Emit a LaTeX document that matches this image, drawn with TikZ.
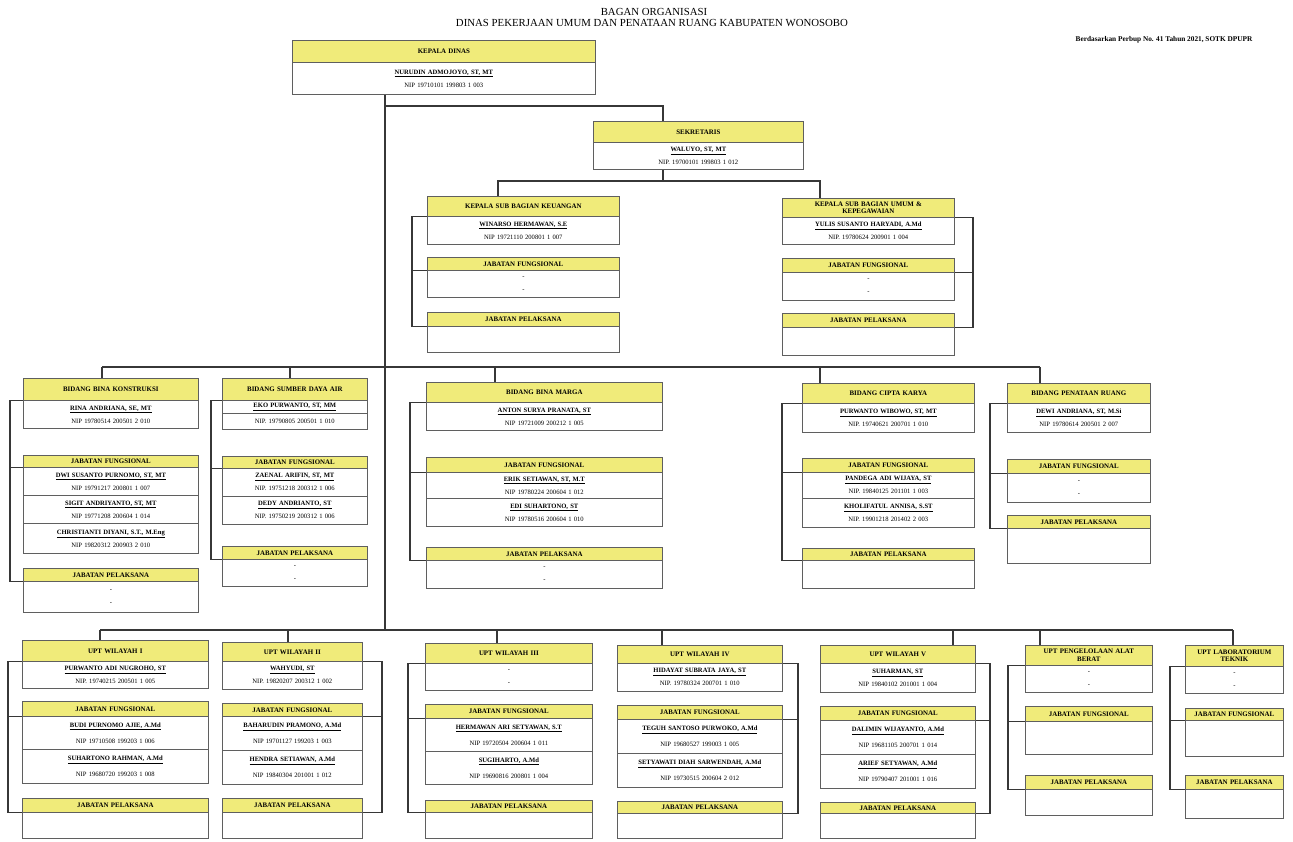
\documentclass[tikz,border=0pt]{standalone}
\usepackage{fontspec}
\setmainfont{Liberation Serif}
\usetikzlibrary{backgrounds}
\definecolor{ylw}{RGB}{240,235,122}
\definecolor{boxc}{RGB}{95,95,95}
\definecolor{linec}{RGB}{55,55,55}
\newcommand{\nm}[1]{\underline{\textbf{#1}}}
\tikzset{
  hd/.style={draw=boxc, line width=0.7pt, fill=ylw, inner sep=0pt, align=center,
    font=\fontsize{6.9}{7.6}\selectfont\bfseries},
  bd/.style={draw=boxc, line width=0.7pt, fill=white, inner sep=0pt, align=center,
    font=\fontsize{6.6}{13}\selectfont},
  bdu/.style={bd, font=\fontsize{6.6}{16}\selectfont},
  conn/.style={draw=linec, line width=1.3pt},
  ttl/.style={font=\fontsize{10.8}{12}\selectfont, inner sep=0pt},
}
\newcommand{\HB}[6]{\node[hd, anchor=north west, text width=#4pt, minimum height=#5pt] (#1) at (#2,#3) {#6};}
\newcommand{\BB}[6]{\node[bd, anchor=north west, text width=#4pt, minimum height=#5pt] (#1) at (#2,#3) {#6};}
\newcommand{\BU}[6]{\node[bdu, anchor=north west, text width=#4pt, minimum height=#5pt] (#1) at (#2,#3) {#6};}
\newcommand{\LBr}[4]{\coordinate (#1x) at (#4,0);
  \draw[conn] (#1.south west) -- (#1.south west -| #1x) -- (#3.south west -| #1x) -- (#3.south west);
  \draw[conn] (#2.south west -| #1x) -- (#2.south west);}
\newcommand{\RBr}[4]{\coordinate (#1x) at (#4,0);
  \draw[conn] (#1.south east) -- (#1.south east -| #1x) -- (#3.south east -| #1x) -- (#3.south east);
  \draw[conn] (#2.south east -| #1x) -- (#2.south east);}
\begin{document}
\begin{tikzpicture}[x=1pt,y=-1pt]
\useasboundingbox (0,0) rectangle (1293,841);

% titles
\node[ttl] (t1) at (654,12) {BAGAN ORGANISASI};
\node[ttl] (t2) at (652,23) {DINAS PEKERJAAN UMUM DAN PENATAAN RUANG KABUPATEN WONOSOBO};
\node[font=\fontsize{7.3}{8}\selectfont\bfseries, inner sep=0pt] (note) at (1164,40) {Berdasarkan Perbup No. 41 Tahun 2021, SOTK DPUPR};

% Kepala Dinas
\HB{kdh}{292}{40}{303}{22}{KEPALA DINAS}
\BB{kdb}{292}{62}{303}{32}{\nm{NURUDIN ADMOJOYO, ST, MT}\\NIP 19710101 199803 1 003}

% Sekretaris
\HB{skh}{593}{121}{210}{21}{SEKRETARIS}
\BB{skb}{593}{142}{210}{27}{\nm{WALUYO, ST, MT}\\NIP. 19700101 199803 1 012}

% Kasubag Keuangan
\HB{kkh}{427}{196}{192}{20}{KEPALA SUB BAGIAN KEUANGAN}
\BB{kkb}{427}{216}{192}{28}{\nm{WINARSO HERMAWAN, S.E}\\NIP 19721110 200801 1 007}
\HB{kkfh}{427}{257}{192}{13}{JABATAN FUNGSIONAL}
\BB{kkfb}{427}{270}{192}{27}{-\\-}
\HB{kkph}{427}{312}{192}{14}{JABATAN PELAKSANA}
\BB{kkpb}{427}{326}{192}{26}{}

% Kasubag Umum
\HB{kuh}{782}{198}{172}{19}{KEPALA SUB BAGIAN UMUM \&\\KEPEGAWAIAN}
\BB{kub}{782}{217}{172}{27}{\nm{YULIS SUSANTO HARYADI, A.Md}\\NIP. 19780624 200901 1 004}
\HB{kufh}{782}{258}{172}{14}{JABATAN FUNGSIONAL}
\BB{kufb}{782}{272}{172}{28}{-\\-}
\HB{kuph}{782}{313}{172}{14}{JABATAN PELAKSANA}
\BB{kupb}{782}{327}{172}{28}{}

% Bidang 1
\HB{bah}{23}{378}{175}{22}{BIDANG BINA KONSTRUKSI}
\BB{bab}{23}{400}{175}{28}{\nm{RINA ANDRIANA, SE, MT}\\NIP 19780514 200501 2 010}
\HB{bafh}{23}{455}{175}{12}{JABATAN FUNGSIONAL}
\BB{baf1}{23}{467}{175}{28}{\nm{DWI SUSANTO PURNOMO, ST, MT}\\NIP 19791217 200801 1 007}
\BB{baf2}{23}{495}{175}{28}{\nm{SIGIT ANDRIYANTO, ST, MT}\\NIP 19771208 200604 1 014}
\BB{baf3}{23}{523}{175}{30}{\nm{CHRISTIANTI DIYANI, S.T., M.Eng}\\NIP 19820312 200903 2 010}
\HB{baph}{23}{568}{175}{13}{JABATAN PELAKSANA}
\BB{bapb}{23}{581}{175}{31}{-\\-}

% Bidang SDA
\HB{bbh}{222}{378}{145}{22}{BIDANG SUMBER DAYA AIR}
\BB{bbn}{222}{400}{145}{13}{\nm{EKO PURWANTO, ST, MM}}
\BB{bbp}{222}{413}{145}{16}{NIP. 19790805 200501 1 010}
\HB{bbfh}{222}{456}{145}{12}{JABATAN FUNGSIONAL}
\BB{bbf1}{222}{468}{145}{28}{\nm{ZAENAL ARIFIN, ST, MT}\\NIP. 19751218 200312 1 006}
\BB{bbf2}{222}{496}{145}{28}{\nm{DEDY ANDRIANTO, ST}\\NIP. 19750219 200312 1 006}
\HB{bbph}{222}{546}{145}{13}{JABATAN PELAKSANA}
\BB{bbpb}{222}{559}{145}{27}{-\\-}

% Bidang Bina Marga
\HB{bch}{426}{382}{236}{20}{BIDANG BINA MARGA}
\BB{bcb}{426}{402}{236}{28}{\nm{ANTON SURYA PRANATA, ST}\\NIP 19721009 200212 1 005}
\HB{bcfh}{426}{457}{236}{15}{JABATAN FUNGSIONAL}
\BB{bcf1}{426}{472}{236}{26}{\nm{ERIK SETIAWAN, ST, M.T}\\NIP 19780224 200604 1 012}
\BB{bcf2}{426}{498}{236}{28}{\nm{EDI SUHARTONO, ST}\\NIP 19780516 200604 1 010}
\HB{bcph}{426}{547}{236}{13}{JABATAN PELAKSANA}
\BB{bcpb}{426}{560}{236}{28}{-\\-}

% Bidang Cipta Karya
\HB{bdh}{802}{383}{172}{20}{BIDANG CIPTA KARYA}
\BB{bdb}{802}{403}{172}{29}{\nm{PURWANTO WIBOWO, ST, MT}\\NIP. 19740621 200701 1 010}
\HB{bdfh}{802}{458}{172}{14}{JABATAN FUNGSIONAL}
\BB{bdf1}{802}{472}{172}{26}{\nm{PANDEGA ADI WIJAYA, ST}\\NIP. 19840125 201101 1 003}
\BB{bdf2}{802}{498}{172}{29}{\nm{KHOLIFATUL ANNISA, S.ST}\\NIP. 19901218 201402 2 003}
\HB{bdph}{802}{548}{172}{12}{JABATAN PELAKSANA}
\BB{bdpb}{802}{560}{172}{28}{}

% Bidang Penataan Ruang
\HB{beh}{1007}{383}{143}{20}{BIDANG PENATAAN RUANG}
\BB{beb}{1007}{403}{143}{29}{\nm{DEWI ANDRIANA, ST, M.Si}\\NIP 19780614 200501 2 007}
\HB{befh}{1007}{459}{143}{14}{JABATAN FUNGSIONAL}
\BB{befb}{1007}{473}{143}{29}{-\\-}
\HB{beph}{1007}{515}{143}{13}{JABATAN PELAKSANA}
\BB{bepb}{1007}{528}{143}{35}{}

% UPT I
\HB{uah}{22}{640}{186}{21}{UPT WILAYAH I}
\BB{uab}{22}{661}{186}{27}{\nm{PURWANTO ADI NUGROHO, ST}\\NIP. 19740215 200501 1 005}
\HB{uafh}{22}{701}{186}{15}{JABATAN FUNGSIONAL}
\BU{uaf1}{22}{716}{186}{33}{\nm{BUDI PURNOMO AJIE, A.Md}\\NIP 19710508 199203 1 006}
\BU{uaf2}{22}{749}{186}{34}{\nm{SUHARTONO RAHMAN, A.Md}\\NIP 19680720 199203 1 008}
\HB{uaph}{22}{798}{186}{14}{JABATAN PELAKSANA}
\BB{uapb}{22}{812}{186}{26}{}

% UPT II
\HB{ubh}{222}{642}{140}{19}{UPT WILAYAH II}
\BB{ubb}{222}{661}{140}{28}{\nm{WAHYUDI, ST}\\NIP. 19820207 200312 1 002}
\HB{ubfh}{222}{703}{140}{13}{JABATAN FUNGSIONAL}
\BU{ubf1}{222}{716}{140}{34}{\nm{BAHARUDIN PRAMONO, A.Md}\\NIP 19701127 199203 1 003}
\BU{ubf2}{222}{750}{140}{34}{\nm{HENDRA SETIAWAN, A.Md}\\NIP 19840304 201001 1 012}
\HB{ubph}{222}{798}{140}{14}{JABATAN PELAKSANA}
\BB{ubpb}{222}{812}{140}{26}{}

% UPT III
\HB{uch}{425}{643}{167}{20}{UPT WILAYAH III}
\BB{ucb}{425}{663}{167}{27}{-\\-}
\HB{ucfh}{425}{704}{167}{14}{JABATAN FUNGSIONAL}
\BU{ucf1}{425}{718}{167}{33}{\nm{HERMAWAN ARI SETYAWAN, S.T}\\NIP 19720504 200604 1 011}
\BU{ucf2}{425}{751}{167}{33}{\nm{SUGIHARTO, A.Md}\\NIP 19690816 200801 1 004}
\HB{ucph}{425}{800}{167}{12}{JABATAN PELAKSANA}
\BB{ucpb}{425}{812}{167}{26}{}

% UPT IV
\HB{udh}{617}{645}{165}{18}{UPT WILAYAH IV}
\BB{udb}{617}{663}{165}{28}{\nm{HIDAYAT SUBRATA JAYA, ST}\\NIP. 19780324 200701 1 010}
\HB{udfh}{617}{705}{165}{14}{JABATAN FUNGSIONAL}
\BU{udf1}{617}{719}{165}{34}{\nm{TEGUH SANTOSO PURWOKO, A.Md}\\NIP 19680527 199003 1 005}
\BU{udf2}{617}{753}{165}{34}{\nm{SETYAWATI DIAH SARWENDAH, A.Md}\\NIP 19730515 200604 2 012}
\HB{udph}{617}{801}{165}{12}{JABATAN PELAKSANA}
\BB{udpb}{617}{813}{165}{25}{}

% UPT V
\HB{ueh}{820}{645}{155}{18}{UPT WILAYAH V}
\BB{ueb}{820}{663}{155}{29}{\nm{SUHARMAN, ST}\\NIP 19840102 201001 1 004}
\HB{uefh}{820}{706}{155}{14}{JABATAN FUNGSIONAL}
\BU{uef1}{820}{720}{155}{34}{\nm{DALIMIN WIJAYANTO, A.Md}\\NIP 19681105 200701 1 014}
\BU{uef2}{820}{754}{155}{34}{\nm{ARIEF SETYAWAN, A.Md}\\NIP 19790407 201001 1 016}
\HB{ueph}{820}{802}{155}{11}{JABATAN PELAKSANA}
\BB{uepb}{820}{813}{155}{25}{}

% UPT Pengelolaan Alat Berat
\HB{ufh}{1025}{645}{127}{20}{UPT PENGELOLAAN ALAT\\BERAT}
\BB{ufb}{1025}{665}{127}{27}{-\\-}
\HB{uffh}{1025}{706}{127}{15}{JABATAN FUNGSIONAL}
\BB{uffb}{1025}{721}{127}{33}{}
\HB{ufph}{1025}{775}{127}{14}{JABATAN PELAKSANA}
\BB{ufpb}{1025}{789}{127}{26}{}

% UPT Laboratorium Teknik
\HB{ugh}{1185}{645}{98}{21}{UPT LABORATORIUM\\TEKNIK}
\BB{ugb}{1185}{666}{98}{27}{-\\-}
\HB{ugfh}{1185}{708}{98}{12}{JABATAN FUNGSIONAL}
\BB{ugfb}{1185}{720}{98}{36}{}
\HB{ugph}{1185}{775}{98}{14}{JABATAN PELAKSANA}
\BB{ugpb}{1185}{789}{98}{29}{}

\begin{pgfonlayer}{background}
\fill[white] (0,0) rectangle (1293,841);
% trunk and sekretaris
\coordinate (tX) at (385,630);
\draw[conn] (kdb.south -| tX) -- (tX);
\coordinate (sJ) at (385,106);
\coordinate (sK) at (663,106);
\draw[conn] (sJ) -- (sK) -- (sK |- skh.north);
\coordinate (sB) at (663,181);
\coordinate (kkX) at (498,181);
\coordinate (kuX) at (820,181);
\draw[conn] (skb.south -| sB) -- (sB);
\draw[conn] (kkX |- kkh.north) -- (kkX) -- (kuX) -- (kuX |- kuh.north);
\LBr{kkh}{kkfh}{kkph}{412}
\RBr{kuh}{kufh}{kuph}{973}

% bidang bus
\coordinate (bv1) at (102,367);
\coordinate (bv2) at (290,367);
\coordinate (bv3) at (495,367);
\coordinate (bv4) at (820,367);
\coordinate (bv5) at (1040,367);
\draw[conn] (bv1) -- (bv5);
\draw[conn] (bv1) -- (bv1 |- bah.north);
\draw[conn] (bv2) -- (bv2 |- bbh.north);
\draw[conn] (bv3) -- (bv3 |- bch.north);
\draw[conn] (bv4) -- (bv4 |- bdh.north);
\draw[conn] (bv5) -- (bv5 |- beh.north);
\LBr{bah}{bafh}{baph}{10}
\LBr{bbh}{bbfh}{bbph}{211}
\LBr{bch}{bcfh}{bcph}{410}
\LBr{bdh}{bdfh}{bdph}{782}
\LBr{beh}{befh}{beph}{990}

% UPT bus
\coordinate (uv1) at (100,630);
\coordinate (uv2) at (288,630);
\coordinate (uv3) at (497,630);
\coordinate (uv4) at (662,630);
\coordinate (uv5) at (953,630);
\coordinate (uv6) at (1040,630);
\coordinate (uv7) at (1233,630);
\draw[conn] (uv1) -- (uv7);
\draw[conn] (uv1) -- (uv1 |- uah.north);
\draw[conn] (uv2) -- (uv2 |- ubh.north);
\draw[conn] (uv3) -- (uv3 |- uch.north);
\draw[conn] (uv4) -- (uv4 |- udh.north);
\draw[conn] (uv5) -- (uv5 |- ueh.north);
\draw[conn] (uv6) -- (uv6 |- ufh.north);
\draw[conn] (uv7) -- (uv7 |- ugh.north);
\LBr{uah}{uafh}{uaph}{8}
\RBr{ubh}{ubfh}{ubph}{382}
\LBr{uch}{ucfh}{ucph}{408}
\RBr{udh}{udfh}{udph}{798}
\RBr{ueh}{uefh}{ueph}{990}
\LBr{ufh}{uffh}{ufph}{1008}
\LBr{ugh}{ugfh}{ugph}{1170}
\end{pgfonlayer}
\end{tikzpicture}
\end{document}
